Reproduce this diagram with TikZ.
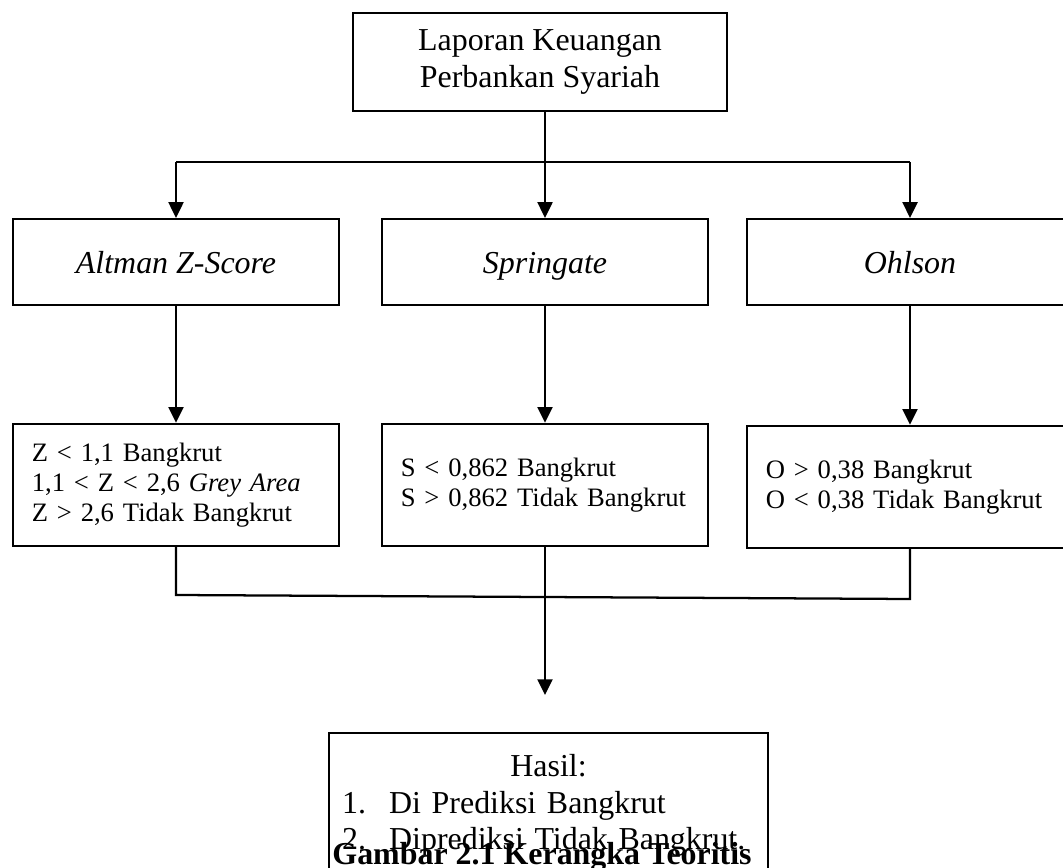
\documentclass[tikz,border=0pt]{standalone}
\usepackage{fontspec}
\setmainfont{Liberation Serif}
\usetikzlibrary{arrows.meta}
\tikzset{
  px/.style={x=0.3759pt,y=-0.3759pt},
  ln/.style={line width=0.85pt,black},
  arr/.style={ln,-{Triangle[width=5.6pt,length=5.9pt]}},
  topbox/.style={draw,ln,minimum width=140.6pt,minimum height=36.95pt,inner sep=0pt,align=center,font=\fontsize{12}{13.9}\selectfont},
  methodbox/.style={draw,ln,minimum width=122.5pt,minimum height=32.3pt,inner sep=0pt,text height=11pt,text depth=2pt,align=center,font=\fontsize{12}{13.9}\selectfont\itshape},
  rulebox/.style={draw,ln,text width=108.4pt,inner xsep=7pt,inner ysep=0pt,minimum height=45.9pt,align=left,font=\fontsize{10}{11.4}\selectfont},
  resultbox/.style={draw,ln,text width=155.2pt,inner xsep=4.9pt,inner ysep=7.8pt,align=left,font=\fontsize{12}{13.9}\selectfont},
  captiontext/.style={inner sep=0pt,anchor=base,font=\fontsize{12}{13.9}\selectfont\bfseries}
}
\begin{document}
\begin{tikzpicture}[px]
\useasboundingbox (0,0) rectangle (1063,868);
\clip (0,0) rectangle (1063,868);
% nodes
\node[topbox] (top) at (540,62) {Laporan Keuangan\\Perbankan Syariah};
\node[methodbox] (altu) at (176,262) {Altman Z-Score};
\node[methodbox] (spru) at (545,262) {Springate};
\node[methodbox] (ohlu) at (910,262) {Ohlson};
\node[rulebox] (altl) at (176,485) {Z < 1,1 Bangkrut\\1,1 < Z < 2,6 \textit{Grey Area}\\Z > 2,6 Tidak Bangkrut};
\node[rulebox] (sprl) at (545,485) {S < 0,862 Bangkrut\\S > 0,862 Tidak Bangkrut};
\node[rulebox] (ohll) at (910,487) {O > 0,38 Bangkrut\\O < 0,38 Tidak Bangkrut};
\node[resultbox,anchor=north] (hasil) at (548.5,732) {\makebox[155.2pt][c]{Hasil:}\\
  \makebox[17.7pt][l]{1.}Di Prediksi Bangkrut\\
  \makebox[17.7pt][l]{2.}Diprediksi Tidak Bangkrut.};
\node[captiontext] (cap) at (542,864) {Gambar 2.1 Kerangka Teoritis};
% coordinates
\coordinate (split) at (545,162);
\coordinate (mL) at (176,595);
\coordinate (mR) at (910,599);
\coordinate (tip) at (545,695);
% connectors
\draw[ln] (top.south -| split) -- (split);
\draw[ln] (split -| altu.north) -- (split -| ohlu.north);
\draw[arr] (split) -- (spru.north);
\draw[arr] (split -| altu.north) -- (altu.north);
\draw[arr] (split -| ohlu.north) -- (ohlu.north);
\draw[arr] (altu.south) -- (altl.north);
\draw[arr] (spru.south) -- (sprl.north);
\draw[arr] (ohlu.south) -- (ohll.north);
\draw[ln] (altl.south) -- (mL) -- (mR) -- (ohll.south);
\draw[arr] (sprl.south) -- (tip);
\end{tikzpicture}
\end{document}
